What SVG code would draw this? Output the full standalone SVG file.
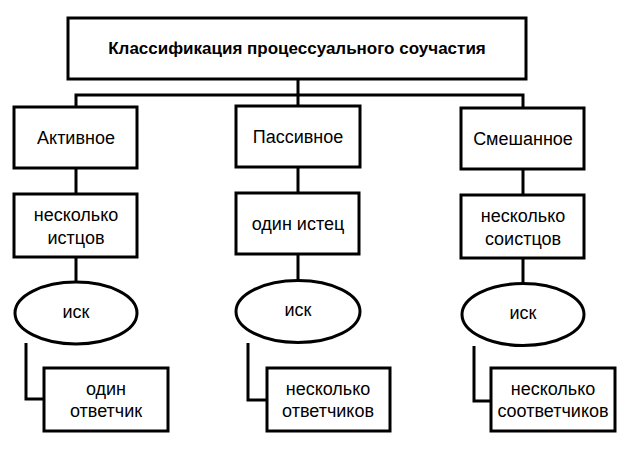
<svg xmlns="http://www.w3.org/2000/svg" width="630" height="457" viewBox="0 0 630 457">
<style>
.b{fill:#fff;stroke:#000;stroke-width:3}
.c{fill:none;stroke:#000;stroke-width:3}
text{font-family:"Liberation Sans",Arial,sans-serif;font-size:18px;fill:#000;text-anchor:middle}
.t{font-weight:bold;font-size:17px}
</style>
<rect width="630" height="457" fill="#fff"/>
<g id="connectors">
<path class="c" d="M298,79 V95 M76,106 V95 H523 V107 M298,95 V106"/>
<path class="c" d="M76,168 V194 M298,167 V193 M523,169 V195"/>
<path class="c" d="M76,257 V282 M298,254 V280 M523,258 V283"/>
<path class="c" d="M26,343 V399 H44 M248,343 V400 H267 M474,346 V401 H491"/>
</g>
<g id="title"><rect class="b" x="68" y="18" width="458" height="61"/><text class="t" x="297" y="54">Классификация процессуального соучастия</text></g>
<g id="active"><rect class="b" x="14" y="107" width="123" height="61"/><text x="76" y="144">Активное</text></g>
<g id="passive"><rect class="b" x="236" y="106" width="124" height="61"/><text x="298" y="143">Пассивное</text></g>
<g id="mixed"><rect class="b" x="461" y="108" width="123" height="61"/><text x="523" y="145">Смешанное</text></g>
<g id="active-plaintiffs"><rect class="b" x="14" y="194" width="123" height="63"/><text x="76" y="221">несколько</text><text x="76" y="244">истцов</text></g>
<g id="passive-plaintiff"><rect class="b" x="236" y="193" width="123" height="61"/><text x="298" y="230">один истец</text></g>
<g id="mixed-plaintiffs"><rect class="b" x="461" y="195" width="123" height="63"/><text x="523" y="222">несколько</text><text x="523" y="245">соистцов</text></g>
<g id="claim1"><ellipse class="b" cx="76" cy="313" rx="61" ry="31"/><text x="76" y="318">иск</text></g>
<g id="claim2"><ellipse class="b" cx="298" cy="311.5" rx="62" ry="31"/><text x="298" y="316">иск</text></g>
<g id="claim3"><ellipse class="b" cx="523" cy="314.5" rx="61" ry="31"/><text x="523" y="319">иск</text></g>
<g id="def1"><rect class="b" x="44" y="368" width="124" height="63"/><text x="106" y="395">один</text><text x="106" y="417">ответчик</text></g>
<g id="def2"><rect class="b" x="267" y="368" width="123" height="63"/><text x="328" y="395">несколько</text><text x="328" y="417">ответчиков</text></g>
<g id="def3"><rect class="b" x="491" y="368" width="124" height="63"/><text x="553" y="395">несколько</text><text x="553" y="417">соответчиков</text></g>
</svg>
